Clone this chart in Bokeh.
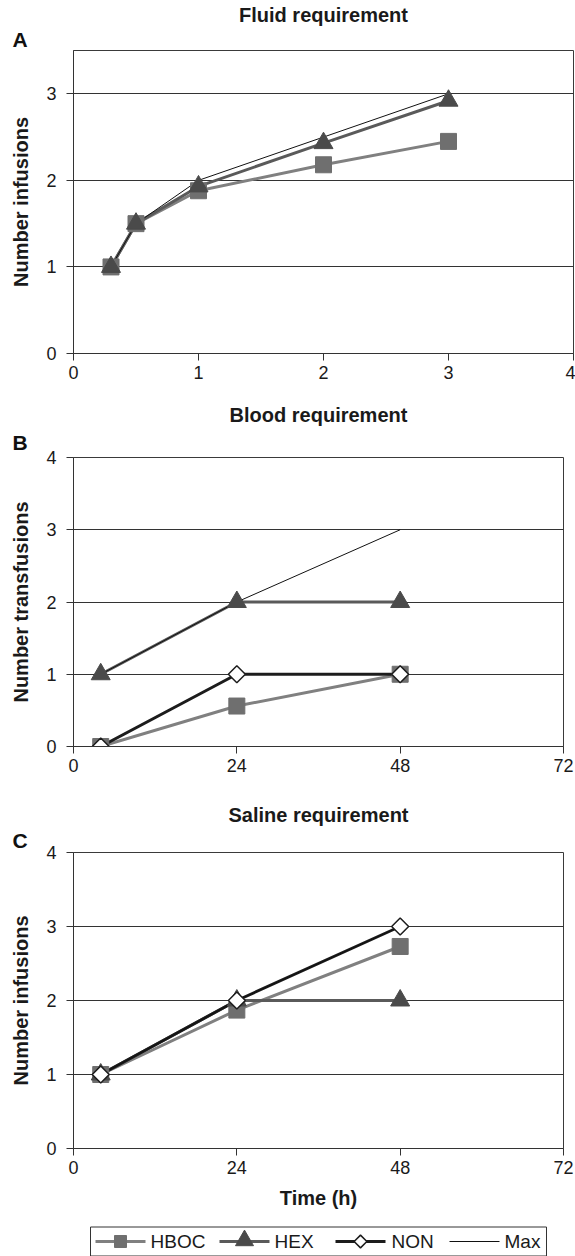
import math
from bokeh.plotting import figure
from bokeh.layouts import column
from bokeh.models import FixedTicker, Range1d, Title
from bokeh.core.properties import value
from bokeh.embed import file_html
from bokeh.resources import INLINE

# ---------------- data ----------------
a_time = [0.3, 0.5, 1, 2, 3]
a_hboc = [1, 1.5, 1.88, 2.18, 2.45]
a_hex = [1, 1.5, 1.93, 2.43, 2.92]
a_max = [1, 1.5, 2, 2.5, 3]

b_time = [4, 24, 48]
b_hboc = [0, 0.56, 1]
b_hex = [1, 2, 2]
b_non = [0, 1, 1]
b_max = [1, 2, 3]

c_time = [4, 24, 48]
c_hboc = [1, 1.87, 2.73]
c_hex = [1, 2, 2]
c_non = [1, 2, 3]
c_max = [1, 2, 3]

a_xticks = [0, 1, 2, 3, 4]
a_yticks = [0, 1, 2, 3]
bc_xticks = [0, 24, 48, 72]
bc_yticks = [0, 1, 2, 3, 4]

legend_labels = ["HBOC", "HEX", "NON", "Max"]

FONT = "Liberation Sans"
TXT = "#1a1a1a"
C_HBOC_L = "#808080"
C_HBOC_M = "#6f6f6f"
C_HEX_L = "#5a5a5a"
C_HEX_M = "#4a4a4a"
C_NON = "#1c1c1c"
C_MAX = "#111111"


def make_panel(letter, title, ylabel, xs, series, xr, yr, xticks, yticks,
               fw, fh, top, bottom, right, l_stand, xlabel=None):
    p = figure(frame_width=fw, frame_height=fh, x_range=Range1d(*xr), y_range=Range1d(*yr),
               output_backend="svg", toolbar_location=None, title=None,
               min_border_left=73, min_border_right=right,
               min_border_top=top, min_border_bottom=bottom)
    p.background_fill_color = "white"
    p.border_fill_color = "white"
    p.outline_line_color = "#3a3a3a"
    p.outline_line_width = 1

    t_letter = Title(text=letter, align="left", offset=-61, standoff=l_stand,
                     text_font=FONT, text_font_size="21px", text_font_style="bold",
                     text_color="#111111")
    t_main = Title(text=title, align="center", standoff=0,
                   text_font=FONT, text_font_size="20px", text_font_style="bold",
                   text_color=TXT)
    p.add_layout(t_letter, "above")
    p.add_layout(t_main, "above")

    p.xgrid.visible = False
    p.ygrid.ticker = FixedTicker(ticks=yticks)
    p.ygrid.grid_line_color = "#333333"
    p.ygrid.grid_line_width = 1

    for ax in (p.xaxis[0], p.yaxis[0]):
        ax.axis_line_color = "#333333"
        ax.major_tick_line_color = "#333333"
        ax.major_tick_in = 0
        ax.major_tick_out = 7
        ax.minor_tick_line_color = None
        ax.major_label_text_font = FONT
        ax.major_label_text_font_size = "18px"
        ax.major_label_text_color = TXT
        ax.axis_label_text_font = FONT
        ax.axis_label_text_font_size = "20px"
        ax.axis_label_text_font_style = "bold"
        ax.axis_label_text_color = TXT
    p.xaxis.ticker = FixedTicker(ticks=xticks)
    p.yaxis.ticker = FixedTicker(ticks=yticks)
    p.xaxis.major_label_standoff = 5
    p.yaxis.major_label_standoff = 10
    p.yaxis.axis_label = ylabel
    p.yaxis.axis_label_standoff = 11
    if xlabel:
        p.xaxis.axis_label = xlabel
        p.xaxis.axis_label_standoff = 10

    if "HBOC" in series:
        p.line(xs, series["HBOC"], line_color=C_HBOC_L, line_width=3)
    if "HEX" in series:
        p.line(xs, series["HEX"], line_color=C_HEX_L, line_width=3)
    if "NON" in series:
        p.line(xs, series["NON"], line_color=C_NON, line_width=3)
    if "Max" in series:
        p.line(xs, series["Max"], line_color=C_MAX, line_width=1)
    if "HBOC" in series:
        p.scatter(xs, series["HBOC"], marker="square", size=16,
                  fill_color=C_HBOC_M, line_color=C_HBOC_M)
    if "HEX" in series:
        p.scatter(xs, series["HEX"], marker="triangle", size=19,
                  fill_color=C_HEX_M, line_color=C_HEX_M)
    if "NON" in series:
        p.scatter(xs, series["NON"], marker="square", angle=math.pi / 4, size=12,
                  fill_color="white", line_color=C_NON, line_width=1.5)
    return p


pA = make_panel("A", "Fluid requirement", "Number infusions", a_time,
                {"HBOC": a_hboc, "HEX": a_hex, "Max": a_max},
                (0, 4), (0, 3.5), a_xticks, a_yticks,
                fw=500, fh=303, top=50, bottom=47, right=2, l_stand=0)
pB = make_panel("B", "Blood requirement", "Number transfusions", b_time,
                {"HBOC": b_hboc, "HEX": b_hex, "NON": b_non, "Max": b_max},
                (0, 72), (0, 4), bc_xticks, bc_yticks,
                fw=490, fh=289, top=57, bottom=54, right=12, l_stand=7)
pC = make_panel("C", "Saline requirement", "Number infusions", c_time,
                {"HBOC": c_hboc, "HEX": c_hex, "NON": c_non, "Max": c_max},
                (0, 72), (0, 4), bc_xticks, bc_yticks,
                fw=490, fh=296, top=52, bottom=74, right=12, l_stand=2,
                xlabel="Time (h)")

# ---- legend strip below panel C (a pixel-unit key, built with glyphs) ----
# The column aligns frames at x=73, so the strip's frame starts there and its
# x range is expressed in page pixels (73..575).
pL = figure(frame_width=502, frame_height=34, min_border_left=73, min_border_right=0,
            min_border_top=0, min_border_bottom=0, x_range=Range1d(73, 575), y_range=Range1d(0, 34),
            x_axis_location=None, y_axis_location=None,
            output_backend="svg", toolbar_location=None, title=None)
pL.xgrid.visible = False
pL.ygrid.visible = False
pL.outline_line_color = None
pL.background_fill_color = "white"
pL.border_fill_color = "white"

KEY_Y = 15
sample_x0 = [95, 219, 335, 449]
sample_len = 50
label_x = [150, 274, 391, 504]
key_line_colors = [C_HBOC_L, C_HEX_L, C_NON, C_MAX]
key_line_widths = [3, 3, 3, 1]

pL.quad(left=[90], right=[546], bottom=[0.5], top=[29.5], fill_color=None,
        line_color="#333333", line_width=1)
for x0, lc, lw in zip(sample_x0, key_line_colors, key_line_widths):
    pL.line([x0, x0 + sample_len], [KEY_Y, KEY_Y], line_color=lc, line_width=lw)
pL.scatter([sample_x0[0] + sample_len / 2], [KEY_Y], marker="square", size=12,
           fill_color=C_HBOC_M, line_color=C_HBOC_M)
pL.scatter([sample_x0[1] + sample_len / 2], [KEY_Y + 1], marker="triangle", size=18,
           fill_color=C_HEX_M, line_color=C_HEX_M)
pL.scatter([sample_x0[2] + sample_len / 2], [KEY_Y], marker="square", angle=math.pi / 4, size=9,
           fill_color="white", line_color=C_NON, line_width=1.5)
pL.text(x=label_x, y=[KEY_Y] * 4, text=legend_labels, text_font=value(FONT),
        text_font_size="19px", text_color=TXT, text_baseline="middle", text_align="left")

layout = column(pA, pB, pC, pL, spacing=0)
open("out.html", "w").write(file_html(layout, INLINE))
